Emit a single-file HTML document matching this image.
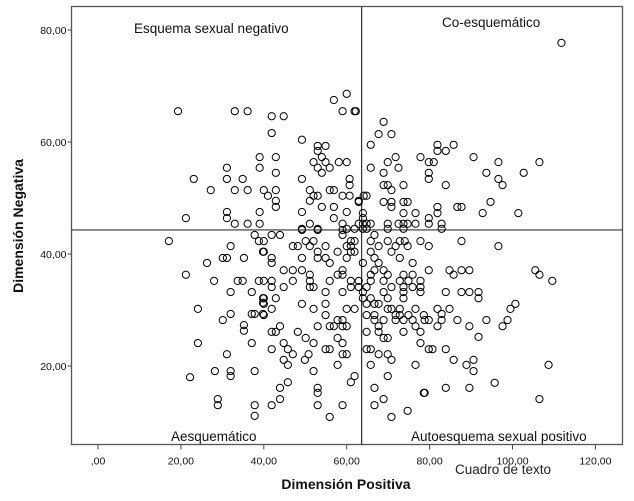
<!DOCTYPE html>
<html><head><meta charset="utf-8"><style>
html,body{margin:0;padding:0;background:#fff;}
svg text{font-family:"Liberation Sans",sans-serif;}
</style></head><body>
<svg id="chart" width="634" height="496" viewBox="0 0 634 496" xmlns="http://www.w3.org/2000/svg">
<rect x="71.5" y="6.5" width="551" height="438" fill="#fff" stroke="#555" stroke-width="1.3"/>
<g id="xticks"></g>
<g id="yticks"></g>
<g id="refs"></g>
<g id="pts"></g>
<text x="134" y="33" font-size="13.5" fill="#111">Esquema sexual negativo</text>
<text x="442" y="27" font-size="13.5" fill="#111">Co-esquemático</text>
<text x="171" y="441" font-size="13.5" fill="#111">Aesquemático</text>
<text x="411" y="441" font-size="13.5" fill="#111">Autoesquema sexual positivo</text>
<text x="455" y="474" font-size="13.5" fill="#222">Cuadro de texto</text>
<text x="346" y="489" font-size="14" font-weight="bold" text-anchor="middle" fill="#111">Dimensión Positiva</text>
<text transform="translate(23,226) rotate(-90)" font-size="14" font-weight="bold" text-anchor="middle" fill="#111">Dimensión Negativa</text>
</svg>
<script>
const xTicks=[0,20,40,60,80,100,120];
const xTickLabels=[",00","20,00","40,00","60,00","80,00","100,00","120,00"];
const yTicks=[20,40,60,80];
const yTickLabels=["20,00","40,00","60,00","80,00"];
const refX=[63.6];
const refY=[44.3];
const xVals=[19.3,33.0,36.1,41.9,44.8,56.9,60.0,59.0,61.9,41.9,49.2,53.0,54.9,53.0,54.0,39.0,42.9,31.1,39.0,52.0,54.9,58.1,60.0,53.0,55.9,54.0,42.9,23.1,31.1,34.9,49.2,60.7,60.7,27.2,33.0,36.1,40.0,42.9,41.0,51.1,55.9,56.9,52.0,53.0,59.0,60.7,64.1,42.9,42.9,51.1,54.0,56.9,62.9,21.2,31.1,31.1,39.0,49.2,60.0,33.0,36.1,39.0,51.1,56.9,59.0,49.2,53.0,60.0,61.9,
111.8,62.2,68.9,67.7,70.8,65.8,81.9,85.8,83.9,81.9,71.8,77.8,90.6,69.9,79.8,81.0,96.6,106.5,65.8,72.5,68.9,79.8,79.8,93.7,102.7,96.6,68.9,69.9,73.7,83.9,97.6,70.8,64.8,62.9,68.9,70.8,73.7,74.7,94.7,70.8,81.9,86.7,87.7,63.9,73.7,76.6,81.9,92.8,101.4,79.8,63.9,62.9,63.9,64.8,65.8,69.9,72.5,73.7,74.7,76.6,79.8,82.9,69.9,73.7,82.9,63.9,64.8,66.7,
17.1,37.8,38.8,39.8,32.0,30.1,31.1,35.2,26.3,21.2,28.0,33.7,34.9,38.8,32.0,37.1,39.8,39.8,24.1,32.0,30.1,37.1,37.8,39.8,35.2,35.2,24.1,37.1,31.1,22.2,28.2,32.0,32.0,37.8,28.9,28.9,37.8,37.8,
41.9,43.9,49.2,53.0,59.0,59.0,40.0,50.1,52.0,61.0,61.9,65.8,69.9,72.8,74.0,77.8,47.0,48.2,51.1,54.9,60.0,61.0,67.7,71.8,74.7,40.0,53.0,57.8,61.0,61.9,65.8,70.8,41.9,49.2,53.0,54.9,60.0,66.7,72.8,41.9,55.9,63.9,67.7,75.9,44.8,47.0,49.2,59.0,66.7,68.9,51.1,57.8,59.0,65.8,69.9,73.7,75.9,40.0,41.9,47.0,51.1,55.9,61.0,62.9,65.8,68.9,72.8,74.9,77.8,41.9,44.8,51.1,52.0,61.0,62.9,64.8,70.8,73.7,75.9,77.8,59.0,54.9,63.9,68.9,73.7,40.0,42.9,63.9,65.8,69.9,73.7,40.0,49.2,54.9,64.8,66.7,67.7,41.9,52.0,60.0,61.9,69.9,70.8,72.8,76.6,40.0,54.9,64.8,66.7,71.8,72.8,74.9,78.6,57.8,59.0,66.7,68.9,71.8,73.7,75.9,43.9,53.0,55.9,56.9,59.0,60.0,67.7,76.6,41.9,42.9,48.2,64.8,67.7,73.7,77.8,50.1,57.8,68.9,69.9,44.8,52.0,59.0,77.8,41.9,45.8,54.9,55.9,64.8,65.8,47.0,50.8,59.0,60.0,67.7,69.9,44.8,49.9,70.8,45.8,57.8,65.8,76.6,52.0,61.9,61.0,69.9,45.8,43.9,53.0,53.0,66.7,78.6,43.9,68.9,41.9,53.0,59.0,66.7,55.9,70.8,74.7,
79.8,87.7,96.6,79.8,84.8,85.8,87.7,89.6,105.5,106.5,109.6,77.8,83.9,87.7,89.6,91.8,91.8,100.7,99.5,81.9,84.8,82.9,82.9,78.8,79.8,86.7,93.7,98.8,81.9,89.6,97.6,91.8,79.8,80.7,83.9,85.8,88.9,90.6,90.6,108.7,95.7,78.8,83.9,89.6,106.5];
const yVals=[65.5,65.5,65.5,64.6,64.6,67.5,68.6,65.5,65.5,61.6,60.4,59.3,59.3,58.4,57.3,57.3,57.3,55.4,55.4,56.4,56.4,56.4,56.4,55.4,55.4,54.5,54.5,53.4,53.4,53.4,53.4,53.4,52.3,51.4,51.4,51.4,51.4,51.4,50.4,51.4,51.4,51.4,50.4,50.4,50.4,50.4,50.4,49.5,48.4,49.5,48.4,48.4,49.5,46.4,47.5,46.4,47.5,47.5,47.5,45.4,45.4,45.4,45.4,46.4,45.4,44.5,44.5,44.5,44.5,
77.7,65.5,63.6,61.4,61.4,59.5,59.5,59.5,58.4,58.4,57.3,57.3,57.3,56.4,56.4,56.4,56.4,56.4,55.4,55.4,54.5,54.5,53.4,54.5,54.5,53.4,52.3,52.3,52.3,52.3,52.3,51.4,50.4,49.3,49.3,49.3,49.3,49.3,49.3,48.4,48.4,48.4,48.4,47.3,47.3,47.3,47.3,47.3,47.3,46.4,46.4,45.4,45.4,45.4,45.4,45.4,45.4,45.4,45.4,45.4,45.4,45.4,44.5,44.5,44.5,44.5,44.5,43.4,
42.3,43.4,42.3,40.4,41.4,39.3,39.3,39.3,38.4,36.3,35.2,35.2,35.2,35.2,33.2,33.2,32.1,31.3,30.2,29.3,28.2,29.3,29.3,29.3,27.3,26.3,24.1,24.1,22.1,18.0,19.1,19.1,18.2,19.1,14.1,13.0,13.0,11.1,
43.4,43.4,44.3,44.3,44.3,43.4,42.3,42.3,42.3,42.3,42.3,42.3,42.3,42.3,42.3,42.3,41.4,41.4,41.4,41.4,41.4,41.4,41.4,41.4,41.4,40.4,40.4,40.4,40.4,40.4,40.4,40.4,39.3,39.3,39.3,39.3,39.3,39.3,39.3,38.4,38.4,38.4,38.4,38.4,37.1,37.1,37.1,37.1,37.1,37.1,36.3,36.3,36.3,36.3,36.3,36.3,36.3,35.2,35.2,35.2,35.2,35.2,35.2,35.2,35.2,35.2,35.2,35.2,35.2,34.1,34.1,34.1,34.1,34.1,34.1,34.1,34.1,34.1,34.1,34.1,33.2,33.2,33.2,33.2,33.2,32.1,32.1,32.1,32.1,32.1,32.1,31.1,31.1,31.1,31.1,31.1,31.1,30.2,30.2,30.2,30.2,30.2,30.2,30.2,30.2,29.1,29.1,29.1,29.1,29.1,29.1,29.1,29.1,28.2,28.2,28.2,28.2,28.2,28.2,28.2,27.1,27.1,27.1,27.1,27.1,27.1,27.1,27.1,26.1,26.1,26.1,26.1,26.1,26.1,26.1,25.0,25.0,25.0,25.0,24.1,24.1,24.1,24.1,23.0,23.0,23.0,23.0,23.0,23.0,22.1,22.1,22.1,22.1,22.1,22.1,21.1,21.1,21.1,20.2,20.2,20.2,20.2,19.1,18.2,17.1,18.2,17.1,16.1,16.1,15.2,16.1,15.2,14.1,14.1,13.0,13.0,13.0,13.0,10.9,10.9,12.0,
41.4,42.3,41.4,37.1,37.1,36.3,37.1,37.1,37.1,36.3,35.2,33.2,33.2,33.2,33.2,33.2,32.1,31.1,30.2,30.2,30.2,29.3,28.2,28.2,28.2,28.2,28.2,28.2,27.1,27.1,27.1,25.2,23.0,23.0,23.0,21.1,20.2,21.1,19.1,20.2,17.0,15.2,16.1,16.1,14.1];

const NS="http://www.w3.org/2000/svg";
const X0=98, XS=4.145, Y0=478, YS=5.6, L=71.5, R=622.5, T=6.5, B=444.5;
function sx(v){return X0+v*XS;}
function sy(v){return Y0-v*YS;}

const xg=document.getElementById('xticks');
xTicks.forEach((t,i)=>{
  const ln=document.createElementNS(NS,'line');
  ln.setAttribute('x1',sx(t));ln.setAttribute('x2',sx(t));ln.setAttribute('y1',B);ln.setAttribute('y2',B+5);
  ln.setAttribute('stroke','#444');
  
  
  xg.appendChild(ln);
  const tx=document.createElementNS(NS,'text');
  tx.setAttribute('x',sx(t));tx.setAttribute('y',B+20);tx.setAttribute('font-size','10.5');tx.setAttribute('text-anchor','middle');tx.setAttribute('fill','#111');
  tx.textContent=xTickLabels[i];
  
  
  xg.appendChild(tx);
});
const yg=document.getElementById('yticks');
yTicks.forEach((t,i)=>{
  const ln=document.createElementNS(NS,'line');
  ln.setAttribute('x1',L-4);ln.setAttribute('x2',L);ln.setAttribute('y1',sy(t));ln.setAttribute('y2',sy(t));
  ln.setAttribute('stroke','#444');
  
  
  yg.appendChild(ln);
  const tx=document.createElementNS(NS,'text');
  tx.setAttribute('x',L-5);tx.setAttribute('y',sy(t)+4);tx.setAttribute('font-size','10.5');tx.setAttribute('text-anchor','end');tx.setAttribute('fill','#111');
  tx.textContent=yTickLabels[i];
  
  
  yg.appendChild(tx);
});
const rg=document.getElementById('refs');
refX.forEach(v=>{
  const ln=document.createElementNS(NS,'line');
  ln.setAttribute('x1',sx(v));ln.setAttribute('x2',sx(v));ln.setAttribute('y1',T);ln.setAttribute('y2',B);
  ln.setAttribute('stroke','#333');ln.setAttribute('stroke-width','1.2');
  
  
  rg.appendChild(ln);
});
refY.forEach(v=>{
  const ln=document.createElementNS(NS,'line');
  ln.setAttribute('x1',L);ln.setAttribute('x2',R);ln.setAttribute('y1',sy(v));ln.setAttribute('y2',sy(v));
  ln.setAttribute('stroke','#333');ln.setAttribute('stroke-width','1.2');
  
  
  rg.appendChild(ln);
});
const pg=document.getElementById('pts');
const n=Math.min(xVals.length,yVals.length);
for(let i=0;i<n;i++){
  const c=document.createElementNS(NS,'circle');
  c.setAttribute('cx',sx(xVals[i]));c.setAttribute('cy',sy(yVals[i]));c.setAttribute('r','3.6');
  c.setAttribute('fill','none');c.setAttribute('stroke','#000');c.setAttribute('stroke-width','1');
  
  
  pg.appendChild(c);
}
</script>
</body></html>
